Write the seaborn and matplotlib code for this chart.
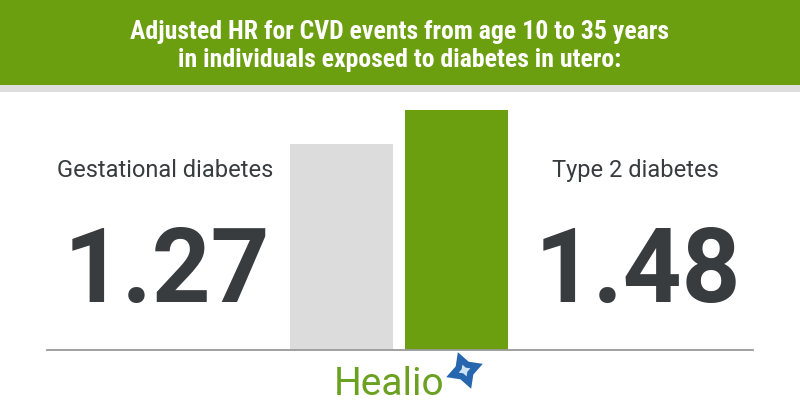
import matplotlib
matplotlib.use("Agg")
import matplotlib.pyplot as plt
import seaborn as sns
import pandas as pd
from matplotlib.patches import Rectangle

# ---- data ----
categories = ["Gestational diabetes", "Type 2 diabetes"]
values = [1.27, 1.48]
value_labels = ["1.27", "1.48"]
bar_colors = ["#dcdcdc", "#6c9f10"]
title_lines = ["Adjusted HR for CVD events from age 10 to 35 years",
               "in individuals exposed to diabetes in utero:"]
brand = "Healio"

sns.set_theme(style="white")
plt.rcParams["font.family"] = ["Roboto", "DejaVu Sans"]

W, H = 800, 420
fig = plt.figure(figsize=(W / 100, H / 100), dpi=100)
fig.patch.set_facecolor("white")

def fx(px):
    return px / W

def fy(py):
    return 1 - py / H

# header band
fig.patches.append(Rectangle((0, fy(85)), 1, 85 / H, transform=fig.transFigure,
                             facecolor="#6c9f10", edgecolor="none", zorder=0))
fig.patches.append(Rectangle((0, fy(92)), 1, 7 / H, transform=fig.transFigure,
                             facecolor="#dedede", edgecolor="none", zorder=0))

title_font = dict(family=["Roboto Condensed", "Liberation Sans Narrow", "Roboto", "DejaVu Sans"],
                  fontweight="bold", fontstretch="condensed")
fig.text(0.5, fy(39), title_lines[0], color="white", fontsize=18.5, ha="center",
         va="baseline", **title_font)
fig.text(0.5, fy(67), title_lines[1], color="white", fontsize=18.5, ha="center",
         va="baseline", **title_font)

# bars
ax = fig.add_axes([fx(47), 70 / H, 706 / W, 250 / H])
df = pd.DataFrame({"cat": categories, "val": values})
sns.barplot(data=df, x="cat", y="val", hue="cat", palette=bar_colors,
            width=0.896, legend=False, ax=ax, saturation=1)
ax.set_xlim(-2.561, 3.578)
ax.set_ylim(0, 1.541)
ax.set_facecolor("none")
for s in ["top", "left", "right"]:
    ax.spines[s].set_visible(False)
ax.spines["bottom"].set_color("#9a9a9a")
ax.spines["bottom"].set_linewidth(1.3)
ax.set_xticks([])
ax.set_yticks([])
ax.set_xlabel("")
ax.set_ylabel("")
for p in ax.patches:
    p.set_edgecolor("none")

# labels
text_color = "#383c3f"
fig.text(fx(273), fy(177), categories[0], color=text_color, fontsize=17,
         ha="right", va="baseline")
fig.text(fx(552), fy(177), categories[1], color=text_color, fontsize=17,
         ha="left", va="baseline")
num_font = dict(family=["Roboto", "DejaVu Sans"], fontweight="bold")
fig.text(fx(167), fy(302), value_labels[0], color=text_color, fontsize=74,
         ha="center", va="baseline", **num_font)
fig.text(fx(638), fy(302), value_labels[1], color=text_color, fontsize=74,
         ha="center", va="baseline", **num_font)

# logo
fig.text(fx(334), fy(395), brand, color="#6aa121", fontsize=28, ha="left",
         va="baseline")
lx = fig.add_axes([0, 0, 1, 1])
lx.set_xlim(0, W)
lx.set_ylim(H, 0)
lx.axis("off")
lx.patch.set_alpha(0)
lx.plot([464], [370], marker=(4, 1, 20), markersize=28, color="#2566ae",
        markeredgewidth=0, linestyle="none")
lx.plot([464], [370], marker=(4, 1, 20), markersize=9, color="#cfe3f5",
        markeredgewidth=0, linestyle="none")

fig.savefig("out.png", dpi=100, facecolor="white")
